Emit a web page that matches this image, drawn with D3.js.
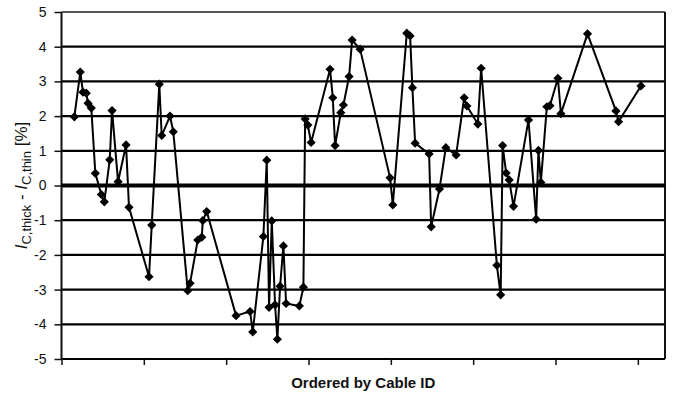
<!DOCTYPE html>
<html>
<head>
<meta charset="utf-8">
<script src="https://cdn.jsdelivr.net/npm/d3@7"></script>
<style>
  html, body { margin: 0; padding: 0; background: #fff; }
  svg { display: block; font-family: "Liberation Sans", Arial, sans-serif; }
</style>
</head>
<body>
<svg id="chart" width="673" height="396"></svg>
<script>
// Cable position along the ordering (index units) and the critical-current difference in %
const cablePos = [
  1.56, 2.28, 2.61, 3.01, 3.22, 3.62, 4.11, 4.84, 5.20, 5.86, 6.14, 6.87, 7.84, 8.20,
  10.63, 10.96, 11.88, 12.17, 13.18, 13.58, 15.33, 15.61, 16.55, 17.04, 17.16, 17.64,
  21.20, 22.90, 23.23, 24.52, 24.93, 25.21, 25.54, 25.94, 26.22, 26.55, 26.95, 27.28,
  28.89, 29.38, 29.59, 29.92, 30.32, 32.62, 32.95, 33.23, 33.92, 34.24, 34.93, 35.30,
  36.27, 39.91, 40.24, 41.94, 42.34, 42.62, 42.95, 44.65, 44.90, 45.91, 46.68, 47.93,
  48.91, 49.24, 50.57, 50.97, 52.88, 53.34, 53.58, 54.01, 54.37, 54.90, 56.72, 57.65,
  57.93, 58.22, 58.95, 59.32, 60.29, 60.66, 63.89, 67.34, 67.66, 70.38
];
const icDiff = [
  1.98, 3.27, 2.69, 2.66, 2.37, 2.23, 0.35, -0.26, -0.47, 0.74, 2.16, 0.11, 1.17, -0.63,
  -2.63, -1.14, 2.92, 1.44, 2.00, 1.55, -3.03, -2.82, -1.57, -1.49, -1.01, -0.75,
  -3.75, -3.63, -4.22, -1.47, 0.73, -3.51, -1.02, -3.44, -4.43, -2.90, -1.74, -3.40,
  -3.47, -2.93, 1.92, 1.74, 1.24, 3.35, 2.53, 1.15, 2.10, 2.32, 3.14, 4.19,
  3.93, 0.22, -0.56, 4.39, 4.31, 2.82, 1.22, 0.91, -1.19, -0.10, 1.09, 0.88,
  2.53, 2.29, 1.77, 3.38, -2.30, -3.15, 1.15, 0.36, 0.16, -0.60, 1.89, -0.97,
  1.01, 0.09, 2.27, 2.30, 3.09, 2.07, 4.37, 2.15, 1.84, 2.87
];
const yTicks = [-5, -4, -3, -2, -1, 0, 1, 2, 3, 4, 5];
const xTicks = [0, 10, 20, 30, 40, 50, 60, 70];
const xTitle = "Ordered by Cable ID";

const svg = d3.select("#chart");
const plot = { left: 61.5, right: 665, top: 12, bottom: 359 };

const x = d3.scaleLinear().domain([0, 73.3]).range([plot.left, plot.right]);
const y = d3.scaleLinear().domain([-5, 5]).range([plot.bottom, plot.top]);

// horizontal gridlines
svg.append("g").selectAll("line")
  .data(yTicks.filter(v => v !== 0 && v !== -5))
  .join("line")
  .attr("x1", plot.left).attr("x2", plot.right)
  .attr("y1", d => y(d)).attr("y2", d => y(d))
  .attr("stroke", d => d === 5 ? "#555" : "#000")
  .attr("stroke-width", 2.2);

// right border
svg.append("line")
  .attr("x1", plot.right).attr("x2", plot.right)
  .attr("y1", plot.top).attr("y2", plot.bottom)
  .attr("stroke", "#111").attr("stroke-width", 2);

// bottom axis with unlabeled tick marks
const xAxis = d3.axisBottom(x).tickValues(xTicks).tickSize(6).tickFormat("");
const gx = svg.append("g").attr("transform", `translate(0,${plot.bottom})`).call(xAxis);
gx.select(".domain").attr("stroke", "#000").attr("stroke-width", 2.2)
  .attr("d", `M${plot.left},0H${plot.right}`);
gx.selectAll(".tick line").attr("stroke", "#111").attr("stroke-width", 1.5);

// left axis (plain hyphen for negatives)
const yAxis = d3.axisLeft(y).tickValues(yTicks).tickSize(7).tickPadding(8).tickFormat(d => String(d));
const gy = svg.append("g").attr("transform", `translate(${plot.left},0)`).call(yAxis);
gy.select(".domain").attr("stroke", "#111").attr("stroke-width", 2)
  .attr("d", `M0,${plot.top}V${plot.bottom}`);
gy.selectAll(".tick line").attr("stroke", "#111").attr("stroke-width", 1.5);
gy.selectAll(".tick text").attr("font-size", 14).attr("fill", "#111")
  .attr("font-family", "'Liberation Sans', Arial, sans-serif");

// zero line
svg.append("line")
  .attr("x1", plot.left).attr("x2", plot.right)
  .attr("y1", y(0)).attr("y2", y(0))
  .attr("stroke", "#000").attr("stroke-width", 4);

// data line
const pts = cablePos.map((c, i) => [c, icDiff[i]]);
svg.append("path")
  .datum(pts)
  .attr("fill", "none")
  .attr("stroke", "#000")
  .attr("stroke-width", 2)
  .attr("stroke-linejoin", "round")
  .attr("d", d3.line().x(d => x(d[0])).y(d => y(d[1])));

// diamond markers
const diamond = d3.symbol().type(d3.symbolSquare).size(42);
svg.append("g").selectAll("path")
  .data(pts)
  .join("path")
  .attr("d", diamond)
  .attr("transform", d => `translate(${x(d[0])},${y(d[1])}) rotate(45)`)
  .attr("fill", "#000");

// y-axis title with italic I and subscripts
const yt = svg.append("text")
  .attr("transform", `translate(27,${(plot.top + plot.bottom) / 2}) rotate(-90)`)
  .attr("text-anchor", "middle")
  .attr("font-size", 17)
  .attr("fill", "#111");
yt.append("tspan").attr("font-style", "italic").text("I");
yt.append("tspan").attr("font-size", 13).attr("dy", 4).text("C,thick");
yt.append("tspan").attr("dy", -4).text(" - ");
yt.append("tspan").attr("font-style", "italic").text("I");
yt.append("tspan").attr("font-size", 13).attr("dy", 4).text("C,thin");
yt.append("tspan").attr("dy", -4).text(" [%]");

// x-axis title
svg.append("text")
  .attr("x", (plot.left + plot.right) / 2)
  .attr("y", 388)
  .attr("text-anchor", "middle")
  .attr("font-size", 15)
  .attr("font-weight", "bold")
  .attr("fill", "#111")
  .text(xTitle);
</script>
</body>
</html>
